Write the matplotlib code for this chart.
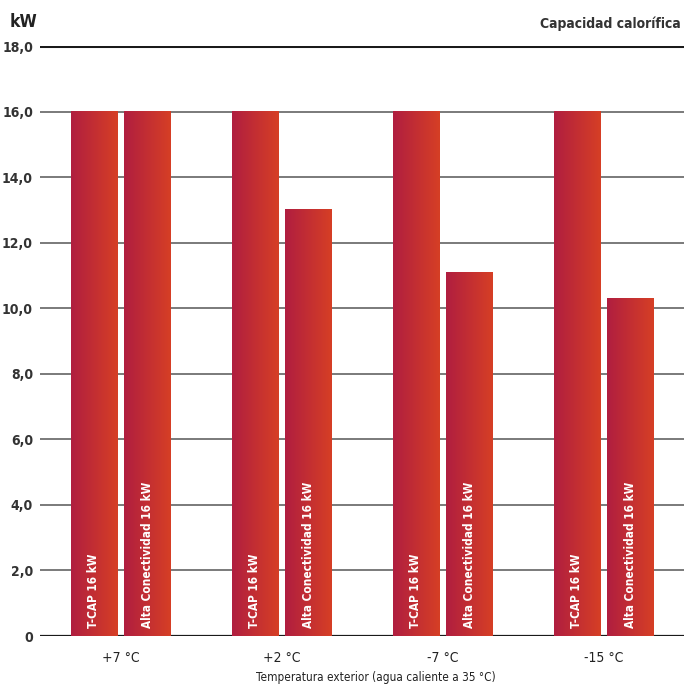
import matplotlib
matplotlib.use("Agg")
import matplotlib.pyplot as plt
import numpy as np
from matplotlib.colors import LinearSegmentedColormap

categories = ["+7 °C", "+2 °C", "-7 °C", "-15 °C"]
series_names = ["T-CAP 16 kW", "Alta Conectividad 16 kW"]
tcap = [16.0, 16.0, 16.0, 16.0]
alta = [16.0, 13.0, 11.1, 10.3]
yticks = [0, 2, 4, 6, 8, 10, 12, 14, 16, 18]
ytick_labels = ["0", "2,0", "4,0", "6,0", "8,0", "10,0", "12,0", "14,0", "16,0", "18,0"]

plt.rcParams['font.family'] = ["DejaVu Sans"]
plt.rcParams['font.stretch'] = "condensed"
ST = "condensed"

fig = plt.figure(figsize=(6.84, 6.84), dpi=100)
ax = fig.add_axes([40/684, 1-636/684, 644/684, (636-46)/684])

cmap = LinearSegmentedColormap.from_list("g", ["#b01e40", "#d63f25"])
grad = np.linspace(0, 1, 256).reshape(1, -1)

x = np.arange(len(categories))
w = 0.286
off = 0.165

for v in yticks:
    if v == 18:
        ax.axhline(v, color="#1a1a1a", lw=2.2, zorder=1)
    elif v == 0:
        ax.axhline(v, color="#1a1a1a", lw=1.6, zorder=1)
    else:
        ax.axhline(v, color="#7a7a7a", lw=1.4, zorder=1)

for vals, o, name in [(tcap, -off, series_names[0]), (alta, off, series_names[1])]:
    bars = ax.bar(x + o, vals, width=w, color="none", zorder=2)
    for b in bars:
        x0 = b.get_x(); x1 = x0 + b.get_width(); h = b.get_height()
        ax.imshow(grad, cmap=cmap, extent=[x0, x1, 0, h], aspect="auto", zorder=2)
        ax.text(x0 + b.get_width()/2, 0.25, name, rotation=90, ha="center", va="bottom",
                color="white", fontsize=8.5, fontweight="bold", fontstretch=ST, zorder=3)

ax.set_xlim(-0.5, 3.5)
ax.set_ylim(0, 18)
ax.set_xticks(x)
ax.set_xticklabels(categories, fontsize=10, fontstretch=ST, color="#222222")
ax.set_yticks(yticks)
ax.set_yticklabels(ytick_labels, fontsize=10, fontweight="bold", color="#333333", fontstretch=ST)
ax.tick_params(axis="both", length=0)
ax.tick_params(axis="y", pad=5)
ax.tick_params(axis="x", pad=11)
for s in ax.spines.values():
    s.set_visible(False)

fig.text(10/684, 1-22/684, "kW", fontsize=12.5, fontweight="bold", color="#222222", va="center", ha="left", fontstretch=ST)
fig.text(681/684, 1-24/684, "Capacidad calorífica", fontsize=10, fontweight="bold", color="#333333", va="center", ha="right", fontstretch=ST)
fig.text(376/684, 1-677/684, "Temperatura exterior (agua caliente a 35 °C)", fontsize=8.5, color="#222222", va="center", ha="center", fontstretch=ST)

fig.savefig("out.png", dpi=100)
